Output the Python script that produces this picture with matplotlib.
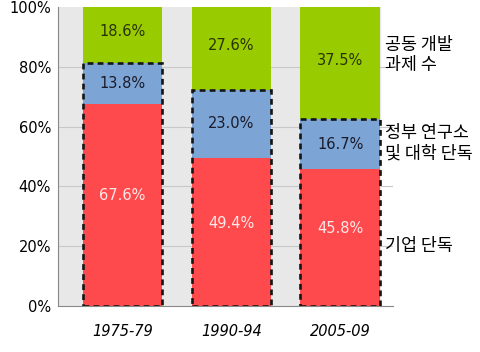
import numpy as np
import matplotlib
matplotlib.use('Agg')
import matplotlib.pyplot as plt

plt.rcParams['font.family'] = ['DejaVu Sans', 'Noto Sans CJK KR']

# data
periods = ['1975-79', '1990-94', '2005-09']
firm_only = [67.6, 49.4, 45.8]
gov_univ = [13.8, 23.0, 16.7]
joint = [18.6, 27.6, 37.5]
series_names = ['기업 단독', '정부 연구소\n및 대학 단독', '공동 개발\n과제 수']

c_red = '#ff4a4d'
c_blue = '#7ca5d5'
c_green = '#99cc00'

fig = plt.figure(figsize=(4.8, 3.52), dpi=100)
ax = fig.add_axes([0.121, 0.131, 0.698, 0.849])

x = np.arange(len(periods))
w = 0.73
firm = np.array(firm_only)
gov = np.array(gov_univ)
jnt = np.array(joint)

ax.set_xlim(-0.593, 2.487)
ax.set_ylim(0, 100)
ax.axvspan(-0.593, x[-1] + w / 2, color='#e8e8e8', zorder=0)
for yv in [20, 40, 60, 80]:
    ax.axhline(yv, color='#c8c8c8', lw=0.8, zorder=1)

ax.bar(x, firm, w, color=c_red, zorder=2)
ax.bar(x, gov, w, bottom=firm, color=c_blue, zorder=2)
ax.bar(x, jnt, w, bottom=firm + gov, color=c_green, zorder=2)
# dashed outline around red+blue
ax.bar(x, firm + gov, w, fill=False, edgecolor='#151515', lw=1.9,
       linestyle=(0, (2.2, 1.6)), zorder=3)

for i in range(len(x)):
    ax.text(x[i], firm[i] / 2 + 3, f'{firm[i]:.1f}%', ha='center', va='center',
            color='#ffe8e8', fontsize=10.5, zorder=4)
    ax.text(x[i], firm[i] + gov[i] / 2, f'{gov[i]:.1f}%', ha='center', va='center',
            color='#1a1a2a', fontsize=10.5, zorder=4)
    ax.text(x[i], firm[i] + gov[i] + jnt[i] / 2 + 1, f'{jnt[i]:.1f}%', ha='center', va='center',
            color='#2a3300', fontsize=10.5, zorder=4)

# right side series labels
lx = x[-1] + w / 2 + 0.05
kfont = dict(ha='left', va='center', fontsize=12.5, family=['Noto Sans CJK KR'],
             clip_on=False, linespacing=1.15)
ax.text(lx, 20, series_names[0], **kfont)
ax.text(lx, 54.5, series_names[1], **kfont)
ax.text(lx, 84, series_names[2], **kfont)

ax.set_xticks(x)
ax.set_xticklabels(periods, fontstyle='italic', fontsize=10.5)
ax.set_yticks(np.arange(0, 101, 20))
ax.set_yticklabels([f'{v}%' for v in range(0, 101, 20)], fontsize=10.5)
ax.tick_params(axis='x', length=0, pad=13)
ax.tick_params(axis='y', length=0, pad=5)
for s in ['top', 'right']:
    ax.spines[s].set_visible(False)
ax.spines['left'].set_color('#888888')
ax.spines['bottom'].set_color('#888888')
ax.set_facecolor('white')

fig.savefig('out.png', dpi=100)
